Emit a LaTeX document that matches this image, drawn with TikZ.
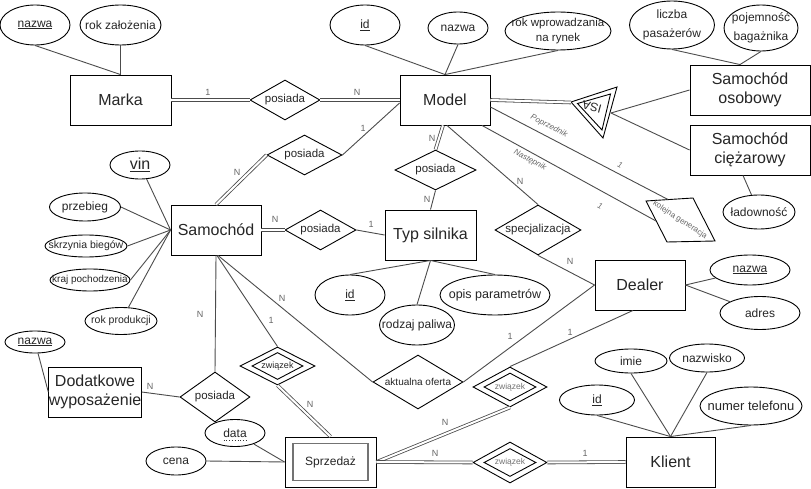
\documentclass[tikz,border=0pt]{standalone}
\usepackage{fontspec}
\setmainfont{Liberation Sans}
\usetikzlibrary{shapes.geometric}
\newcommand{\fsz}[2]{\fontsize{#1pt}{#2pt}\selectfont}
\tikzset{
  ent/.style={draw=black, line width=0.9pt, inner sep=0pt, text=black!85, font=\fsz{16}{19}, align=center},
  att/.style={ellipse, draw=black, line width=0.9pt, inner xsep=-15pt, inner ysep=-10pt, text=black!85, font=\fsz{12}{14}, align=center},
  rel/.style={diamond, draw=black, line width=0.9pt, inner sep=0pt, text=black!85, font=\fsz{11.5}{13}},
  con/.style={draw=black!70, line width=0.9pt},
  dcon/.style={draw=black!70, line width=0.8pt, double=white, double distance=2pt},
  lbl/.style={text=black!60, font=\fsz{9}{10}, inner sep=0pt},
  ilbl/.style={text=black!60, font=\fsz{8}{9}\itshape, inner sep=0pt},
}
\begin{document}
\begin{tikzpicture}[x=1pt,y=-1pt]
\fill[white] (0,0) rectangle (811,489);
\useasboundingbox (0,0) rectangle (811,489);

% entities
\node[ent, minimum width=101, minimum height=50] (marka) at (120.5,100) {Marka};
\node[ent, minimum width=90, minimum height=50] (model) at (445,100) {Model};
\node[ent, minimum width=120, minimum height=50] (osob) at (750,90) {Samochód\\osobowy};
\node[ent, minimum width=120, minimum height=50] (cie) at (750,150) {Samochód\\ciężarowy};
\node[ent, minimum width=90, minimum height=50] (sam) at (216,230) {Samochód};
\node[ent, minimum width=91, minimum height=50] (typ) at (430.5,235) {Typ silnika};
\node[ent, minimum width=90, minimum height=50] (dealer) at (640,285) {Dealer};
\node[ent, minimum width=89, minimum height=50] (klient) at (670.5,462) {Klient};
\node[ent, minimum width=90, minimum height=50] (dod) at (95,392) {Dodatkowe\\wyposażenie};
\node[ent, minimum width=91, minimum height=50, font=\fsz{12}{14}] (sprz) at (330.5,462) {Sprzedaż};
\node[draw=black!55, line width=1.5pt, minimum width=75, minimum height=37, inner sep=0pt] (sprzin) at (sprz.center) {};

% attributes
\node[att, minimum width=70, minimum height=40] (a1) at (35,25) {\underline{nazwa}};
\node[att, minimum width=81, minimum height=40] (a2) at (120.5,25) {rok założenia};
\node[att, minimum width=70, minimum height=40] (a3) at (365,25) {\underline{id}};
\node[att, minimum width=60, minimum height=32] (a4) at (458,28) {nazwa};
\node[att, minimum width=106, minimum height=38, font=\fsz{11.5}{15}] (a5) at (558,31) {rok wprowadzania\\na rynek};
\node[att, minimum width=85, minimum height=48, font=\fsz{12}{19}] (a6) at (672,25) {liczba\\pasażerów};
\node[att, minimum width=74, minimum height=46, font=\fsz{12}{19}] (a7) at (761,28) {pojemność\\bagażnika};
\node[att, minimum width=72, minimum height=34] (a8) at (759,212) {ładowność};
\node[att, minimum width=60, minimum height=28, font=\fsz{16}{18}] (a9) at (140,165) {\underline{vin}};
\node[att, minimum width=71, minimum height=28] (a10) at (85,207) {przebieg};
\node[att, minimum width=82, minimum height=22, font=\fsz{10.5}{12}] (a11) at (86,246) {skrzynia biegów};
\node[att, minimum width=80, minimum height=22, font=\fsz{10}{12}] (a12) at (90,280) {kraj pochodzenia};
\node[att, minimum width=72, minimum height=27, font=\fsz{10.5}{12}] (a13) at (121,321) {rok produkcji};
\node[att, minimum width=60, minimum height=22] (a14) at (35,342) {\underline{nazwa}};
\node[att, minimum width=60, minimum height=27] (a15) at (235,433) {data};
\draw[black!80, line width=0.8pt, dotted] ([xshift=-11.5pt,yshift=-7pt]a15.center) -- ([xshift=11.5pt,yshift=-7pt]a15.center);
\node[att, minimum width=60, minimum height=28] (a16) at (176,461) {cena};
\node[att, minimum width=70, minimum height=40] (a17) at (350,295) {\underline{id}};
\node[att, minimum width=75, minimum height=40] (a18) at (417,325) {rodzaj paliwa};
\node[att, minimum width=110, minimum height=40, font=\fsz{12.5}{14}] (a19) at (495,295) {opis parametrów};
\node[att, minimum width=80, minimum height=30] (a20) at (750,270) {\underline{nazwa}};
\node[att, minimum width=80, minimum height=33] (a21) at (760,313) {adres};
\node[att, minimum width=72, minimum height=24] (a22) at (631,361) {imie};
\node[att, minimum width=75, minimum height=28] (a23) at (707,358) {nazwisko};
\node[att, minimum width=75, minimum height=30] (a24) at (597,400) {\underline{id}};
\node[att, minimum width=102, minimum height=38, font=\fsz{13}{15}] (a25) at (751,406) {numer telefonu};

% relationships
\node[rel, aspect=1.75, minimum width=70, minimum height=40] (r1) at (285,100) {posiada};
\node[rel, aspect=1.87, minimum width=75, minimum height=40] (r2) at (304.5,155) {posiada};
\node[rel, aspect=2.02, minimum width=81, minimum height=40] (r3) at (435.5,170) {posiada};
\node[rel, aspect=1.77, minimum width=71, minimum height=40] (r4) at (320.5,230) {posiada};
\node[rel, aspect=1.72, minimum width=86, minimum height=50] (r5) at (538,230) {specjalizacja};
\node[rel, aspect=1.67, minimum width=90, minimum height=54, font=\fsz{10}{12}] (r6) at (418,382) {aktualna oferta};
\node[rel, aspect=1.4, minimum width=70, minimum height=50] (r7) at (215,397) {posiada};
\node[rel, aspect=1.97, minimum width=75, minimum height=38, font=\fsz{9}{10}] (w1) at (277.5,366) {związek};
\node[rel, aspect=1.9, minimum width=51, minimum height=27] (w1i) at (w1.center) {};
\node[rel, aspect=1.85, minimum width=74, minimum height=40, font=\fsz{8.5}{10}, text=black!55] (w2) at (510,387) {związek};
\node[rel, aspect=1.85, minimum width=52, minimum height=28] (w2i) at (w2.center) {};
\node[rel, aspect=1.8, minimum width=74, minimum height=41, font=\fsz{8.5}{10}, text=black!55] (w3) at (510,462.5) {związek};
\node[rel, aspect=1.85, minimum width=52, minimum height=28] (w3i) at (w3.center) {};

% ISA triangle
\draw[line width=0.9pt] (571,102) -- (617,87) -- (603,138) -- cycle;
\draw[line width=0.9pt] (577.5,103.5) -- (610.5,94) -- (602,130) -- cycle;
\node[text=black!85, font=\fsz{12}{14}, inner sep=0pt, rotate=165] (isa) at (592,107) {ISA};
\coordinate (isaA) at (571,102.5);
\coordinate (isaB) at (611,113);

% kolejna generacja
\draw[line width=0.9pt] (646,201) -- (693,198) -- (715,241) -- (667,242) -- cycle;
\node[text=black!60, font=\fsz{8}{9}, inner sep=0pt, rotate=-33] (kg) at (680,220) {kolejna generacja};
\coordinate (kgP) at (668,199.5);
\coordinate (kgN) at (656,221);

% connectors
\draw[con] (a1.south) -- (marka.north);
\draw[con] (a2.south) -- (marka.north);
\draw[dcon] (marka.east) -- (r1.west);
\draw[dcon] (r1.east) -- (model.west);
\draw[con] (a3.south) -- (model.north);
\draw[con] (a4.south) -- (model.north);
\draw[con] (a5.south) -- (model.north);
\draw[dcon] (model.east) -- (isaA);
\draw[con] (isaB) -- (osob.west);
\draw[con] (isaB) -- (cie.west);
\draw[con] (a6.south) -- ([xshift=-10pt]osob.north);
\draw[con] (a7.south) -- ([xshift=-10pt]osob.north);
\draw[con] ([xshift=-7pt]cie.south) -- (a8);
\draw[con] ([yshift=-7pt]model.east) -- (kgP);
\draw[con] ([xshift=37pt]model.south) -- (kgN);
\draw[dcon] ([xshift=-2pt]model.south) -- (r3.north);
\draw[con] (r3.south) -- (typ.north);
\draw[con] ([xshift=2pt]model.south) -- (r5.north);
\draw[con] (r5.south) -- (dealer.west);
\draw[con] (r2.east) -- ([yshift=-3pt]model.west);
\draw[dcon] (sam.north) -- (r2.west);
\draw[con] (a9) -- (sam.west);
\draw[con] (a10.east) -- (sam.west);
\draw[con] (a11.east) -- (sam.west);
\draw[con] (a12.east) -- (sam.west);
\draw[con] (a13) -- (sam.west);
\draw[dcon] (sam.east) -- (r4.west);
\draw[con] (r4.east) -- (typ.west);
\draw[con] (typ.south) -- (a17.north);
\draw[con] (typ.south) -- (a18.north);
\draw[con] (typ.south) -- (a19.north);
\draw[con] (sam.south) -- (r7.north);
\draw[con] (dod.east) -- (r7.west);
\draw[con] (a14) -- (dod.west);
\draw[con] ([xshift=1pt]sam.south) -- (w1.north);
\draw[con] ([xshift=2pt]sam.south) -- (r6.west);
\draw[dcon] (w1.south) -- (sprz.north);
\draw[con] (r6.east) -- (dealer.west);
\draw[con] ([xshift=-7pt]dealer.south) -- (w2.north);
\draw[dcon] (w2.south) -- (sprz.east);
\draw[dcon] (sprz.east) -- (w3.west);
\draw[dcon] (w3.east) -- (klient.west);
\draw[con] (a15) -- (sprz.west);
\draw[con] (a16.east) -- (sprz.west);
\draw[con] (dealer.east) -- (a20);
\draw[con] (dealer.east) -- (a21);
\draw[con] (a22.south) -- (klient.north);
\draw[con] (a23.south) -- (klient.north);
\draw[con] (a24.south) -- (klient.north);
\draw[con] (a25.south) -- (klient.north);

% labels
\node[lbl] (l1) at (208,92) {1};
\node[lbl] (l2) at (357,92) {N};
\node[lbl] (l3) at (363,128) {1};
\node[lbl] (l4) at (237,172) {N};
\node[lbl] (l5) at (432,138) {N};
\node[lbl] (l6) at (427,199) {N};
\node[lbl] (l7) at (520,181) {N};
\node[lbl] (l8) at (570,261) {N};
\node[lbl] (l9) at (275,219) {N};
\node[lbl] (l10) at (371,224) {1};
\node[lbl] (l11) at (200,314) {N};
\node[lbl] (l12) at (150,386) {N};
\node[lbl] (l13) at (271,320) {1};
\node[lbl] (l14) at (282,298) {N};
\node[lbl] (l15) at (310,404) {N};
\node[lbl] (l16) at (510,336) {1};
\node[lbl] (l17) at (570,332) {1};
\node[lbl] (l18) at (445,422) {N};
\node[lbl] (l19) at (435,453) {N};
\node[lbl] (l20) at (585,453) {1};
\node[ilbl, rotate=-27] (l21) at (549,126) {Poprzednik};
\node[ilbl, rotate=-28] (l22) at (530,160) {Następnik};
\node[ilbl, rotate=-27] (l23) at (620,165) {1};
\node[ilbl, rotate=-27] (l24) at (600,206) {1};
\end{tikzpicture}
\end{document}
